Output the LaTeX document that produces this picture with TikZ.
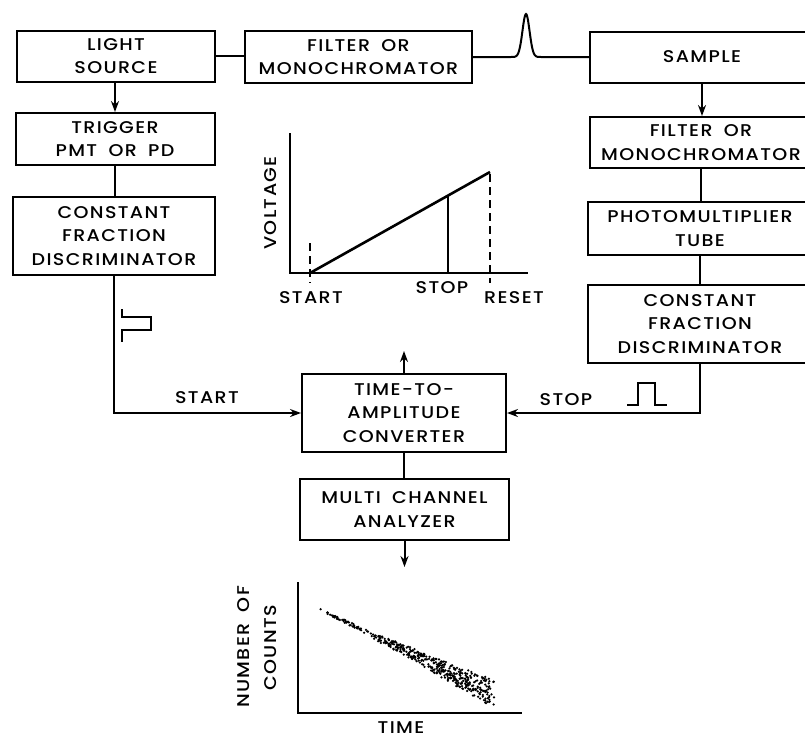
\documentclass[tikz,border=0pt]{standalone}
\usepackage{fontspec}
\setmainfont{Poppins}[LetterSpace=8, FakeStretch=1.12, WordSpace=1.8, UprightFont=* Medium]
\usetikzlibrary{arrows.meta,calc}
\begin{document}
\begin{tikzpicture}[x=1pt,y=-1pt,
  lab/.style={font=\fontsize{17}{23.5}\selectfont, inner sep=0pt, align=center},
  box/.style={lab, draw, line width=2pt},
  conn/.style={line width=2pt},
  arr/.style={conn, -{Stealth[length=11pt,width=8pt]}},
  axisline/.style={line width=2.2pt},
  pulse/.style={line width=2pt, line join=miter},
  dashline/.style={line width=1.3pt, dash pattern=on 8pt off 5pt}
]
\useasboundingbox (0,0) rectangle (805,740);
\clip (0,0) rectangle (805,740);

% boxes
\node[box, minimum width=198pt, minimum height=51pt] (ls) at (116,56) {LIGHT\\SOURCE};
\node[box, minimum width=227pt, minimum height=52pt] (f1) at (358.5,57) {FILTER OR\\MONOCHROMATOR};
\node[box, minimum width=224pt, minimum height=51pt] (sample) at (702,57) {SAMPLE};
\node[box, minimum width=199pt, minimum height=52pt] (trig) at (115,139) {TRIGGER\\PMT OR PD};
\node[box, minimum width=222pt, minimum height=51pt] (f2) at (701,142.5) {FILTER OR\\MONOCHROMATOR};
\node[box, minimum width=202pt, minimum height=78pt] (cfd1) at (114,236) {CONSTANT\\FRACTION\\DISCRIMINATOR};
\node[box, minimum width=225pt, minimum height=53pt] (pmt) at (700,228.5) {PHOTOMULTIPLIER\\TUBE};
\node[box, minimum width=225pt, minimum height=78pt] (cfd2) at (700,324) {CONSTANT\\FRACTION\\DISCRIMINATOR};
\node[box, minimum width=204pt, minimum height=78pt] (tac) at (404,413) {TIME-TO-\\AMPLITUDE\\CONVERTER};
\node[box, minimum width=209pt, minimum height=61pt] (mca) at (404.5,509.5) {MULTI CHANNEL\\ANALYZER};

% connectors
\draw[conn] (ls.east) -- (ls.east -| f1.west);
\draw[conn] (f1.east) -- (506,57)
  -- plot[domain=-20:20, samples=81] ({526+\x},{57-43*exp(-(\x/5)*(\x/5))})
  -- (sample.west);
\draw[arr] (ls.south -| trig.north) -- (trig.north);
\draw[conn] (trig.south) -- (trig.south |- cfd1.north);
\draw[arr] (cfd1.south) -- (cfd1.south |- tac.west) -- (tac.west);
\draw[arr] (sample.south) -- (sample.south |- f2.north);
\draw[conn] (f2.south) -- (f2.south |- pmt.north);
\draw[conn] (pmt.south) -- (cfd2.north);
\draw[arr] (cfd2.south) -- (cfd2.south |- tac.east) -- (tac.east);
\coordinate (up) at (404,351);
\draw[arr] (tac.north) -- (up);
\draw[conn] (tac.south) -- (tac.south |- mca.north);
\coordinate (down) at (404.5,567);
\draw[arr] (mca.south) -- (down);

% pulses
\draw[pulse] (122,309) -- (122,317) -- (151,317) -- (151,330) -- (122,330) -- (122,342);
\draw[pulse] (627,405) -- (638,405) -- (638,383) -- (655,383) -- (655,405) -- (667,405);

\node[lab] (startL) at (207,398) {START};
\node[lab] (stopR) at (566,400) {STOP};

% voltage graph
\draw[axisline] (290,133) -- (290,273) -- (528,273);
\draw[line width=2.6pt] (310,273) -- (490,172);
\draw[line width=1.2pt] (448,195.6) -- (448,273);
\draw[dashline] (310,243) -- (310,283);
\draw[dashline] (490,174) -- (490,283);
\node[lab, rotate=90] (volt) at (271,203) {VOLTAGE};
\node[lab] (gstart) at (311,298) {START};
\node[lab] (gstop) at (442,288) {STOP};
\node[lab] (greset) at (514,298) {RESET};

% decay graph
\draw[axisline] (298,582) -- (298,713) -- (522,713);
\pgfmathsetseed{11}
\foreach \i in {1,...,460}{
  \pgfmathsetmacro\t{rnd^0.55}
  \pgfmathsetmacro\px{317+175*\t+3*rand*\t}
  \pgfmathsetmacro\py{608+0.485*175*\t+rand*(0.8+13*\t^1.6)}
  \fill (\px,\py) circle (1.25pt);
}
\node[lab, rotate=90] (nof) at (244,647) {NUMBER OF};
\node[lab, rotate=90] (counts) at (271,648) {COUNTS};
\node[lab] (time) at (401,728) {TIME};
\end{tikzpicture}
\end{document}
